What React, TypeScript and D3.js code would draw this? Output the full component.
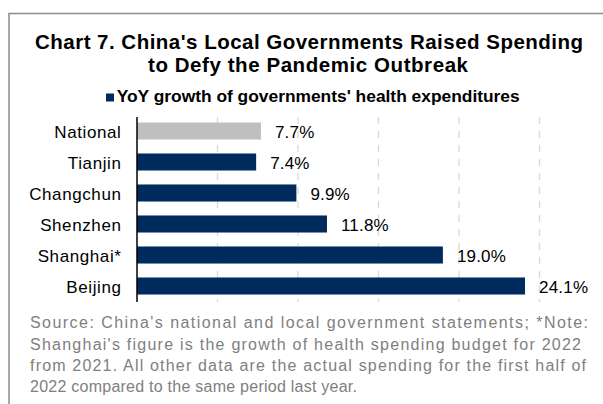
import React from "react";
import * as d3 from "d3";

const categories = ["National", "Tianjin", "Changchun", "Shenzhen", "Shanghai*", "Beijing"];
const values = [7.7, 7.4, 9.9, 11.8, 19.0, 24.1];
const valueLabels = ["7.7%", "7.4%", "9.9%", "11.8%", "19.0%", "24.1%"];
const gridTicks = [5, 10, 15, 20, 25, 30];
const titleLines = [
  "Chart 7. China's Local Governments Raised Spending",
  "to Defy the Pandemic Outbreak",
];
const legendLabel = "YoY growth of governments' health expenditures";
const noteLines = [
  "Source: China's national and local government statements; *Note:",
  "Shanghai's figure is the growth of health spending budget for 2022",
  "from 2021. All other data are the actual spending for the first half of",
  "2022 compared to the same period last year.",
];
const noteWidths = [558, 551, 556, 327];

const W = 603;
const H = 404;
const NAVY = "#002b5e";
const GREY_BAR = "#bfbfbf";
const FONT = "'Liberation Sans', Arial, sans-serif";

export default function App() {
  const x = d3.scaleLinear().domain([0, 30]).range([137, 620]);
  const y = d3
    .scaleBand<string>()
    .domain(categories)
    .range([115.5, 301.5])
    .paddingInner(0.45)
    .paddingOuter(0.225);

  const plotTop = 117;
  const plotBottom = 302;

  return (
    <svg
      width={W}
      height={H}
      viewBox={`0 0 ${W} ${H}`}
      style={{ position: "absolute", left: 0, top: 0, background: "#fff" }}
      fontFamily={FONT}
    >
      <rect x={0} y={0} width={W} height={H} fill="#fff" />
      {/* frame */}
      <rect x={9} y={13.5} width={W + 20} height={H + 20} fill="none" stroke="#8c8c8c" strokeWidth={1.5} />

      {/* title */}
      <text x={309} y={48.5} textAnchor="middle" fontSize={20.5} fontWeight="bold" fill="#000"
        textLength={548} lengthAdjust="spacing">
        {titleLines[0]}
      </text>
      <text x={308} y={71.5} textAnchor="middle" fontSize={20.5} fontWeight="bold" fill="#000"
        textLength={320} lengthAdjust="spacing">
        {titleLines[1]}
      </text>

      {/* legend */}
      <rect x={106} y={93.5} width={8} height={8} fill={NAVY} />
      <text x={116.7} y={102.3} fontSize={16} fontWeight="bold" fill="#000"
        textLength={403} lengthAdjust="spacingAndGlyphs">
        {legendLabel}
      </text>

      {/* gridlines */}
      {gridTicks.map((t) => (
        <line key={t} x1={x(t)} x2={x(t)} y1={plotTop} y2={plotBottom}
          stroke="#d9d9d9" strokeWidth={1.3} strokeDasharray="7,7" />
      ))}

      {/* bars */}
      {categories.map((c, i) => (
        <rect key={c} x={x(0)} y={y(c)} width={x(values[i]) - x(0)} height={y.bandwidth()}
          fill={i === 0 ? GREY_BAR : NAVY} />
      ))}

      {/* value labels */}
      {categories.map((c, i) => (
        <text key={c} x={x(values[i]) + 14} y={(y(c) as number) + y.bandwidth() / 2 + 6.5}
          fontSize={17} fill="#000" letterSpacing={0.2}>
          {valueLabels[i]}
        </text>
      ))}

      {/* category labels */}
      {categories.map((c) => (
        <text key={c} x={121.5} y={(y(c) as number) + y.bandwidth() / 2 + 6.5}
          textAnchor="end" fontSize={17} fill="#000" letterSpacing={0.6}>
          {c}
        </text>
      ))}

      {/* axis line */}
      <line x1={x(0)} x2={x(0)} y1={plotTop} y2={plotBottom} stroke="#000" strokeWidth={1.5} />

      {/* footnote */}
      {noteLines.map((l, i) => (
        <text key={i} x={30} y={328.3 + i * 21.3} fontSize={16} fill="#808080"
          textLength={noteWidths[i]} lengthAdjust="spacing">
          {l}
        </text>
      ))}
    </svg>
  );
}
